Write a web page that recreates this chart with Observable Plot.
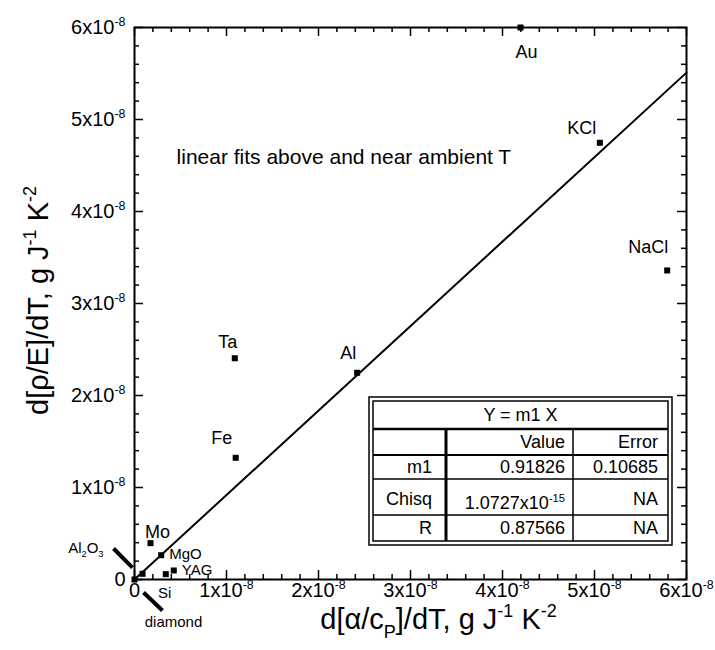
<!DOCTYPE html>
<html>
<head>
<meta charset="utf-8">
<script src="https://cdn.jsdelivr.net/npm/d3@7"></script>
<script src="https://cdn.jsdelivr.net/npm/@observablehq/plot@0.6"></script>
<style>
  body { margin: 0; background: #fff; }
  svg { display: block; }
</style>
</head>
<body>
<div id="chart"></div>
<script>
// ---------------- data ----------------
const materials     = ["diamond", "Al2O3", "Mo", "MgO", "Si", "YAG", "Fe", "Ta", "Al", "Au", "KCl", "NaCl"];
const materialLabel = ["diamond", "Al_{2}O_{3}", "Mo", "MgO", "Si", "YAG", "Fe", "Ta", "Al", "Au", "KCl", "NaCl"];
const alphaOverCp   = [0, 0.087e-8, 0.174e-8, 0.29e-8, 0.34e-8, 0.427e-8, 1.10e-8, 1.09e-8, 2.42e-8, 4.196e-8, 5.058e-8, 5.79e-8];
const rhoOverE      = [0, 0.062e-8, 0.395e-8, 0.264e-8, 0.058e-8, 0.098e-8, 1.323e-8, 2.405e-8, 2.247e-8, 6.0e-8, 4.747e-8, 3.359e-8];

const fitSlope = 0.91826;
const fitX = [0, 6e-8];

const majorTicks = [0, 1e-8, 2e-8, 3e-8, 4e-8, 5e-8, 6e-8];
const xTickLabels = ["0", "1x10^{-8}", "2x10^{-8}", "3x10^{-8}", "4x10^{-8}", "5x10^{-8}", "6x10^{-8}"];
const yTickLabels = ["0", "1x10^{-8}", "2x10^{-8}", "3x10^{-8}", "4x10^{-8}", "5x10^{-8}", "6x10^{-8}"];
const minorTicks = d3.range(0, 31).filter(i => i % 5 !== 0).map(i => i * 0.2e-8);

const xTitle = "d[α/c_{P}]/dT, g J^{-1} K^{-2}";
const yTitle = "d[ρ/E]/dT, g J^{-1} K^{-2}";
const noteText = ["linear fits above and near ambient T"];
const noteX = [0.457e-8];
const noteY = [4.587e-8];

// pointer strokes (data units)
const pointerX1 = [-0.228e-8, 0.098e-8];
const pointerY1 = [0.337e-8, -0.141e-8];
const pointerX2 = [-0.022e-8, 0.304e-8];
const pointerY2 = [0.130e-8, -0.337e-8];

// fit table
const tableTitle = "Y = m1 X";
const tableColumns = ["", "Value", "Error"];
const tableRows = [
  ["m1", "0.91826", "0.10685"],
  ["Chisq", "1.0727x10^{-15}", "NA"],
  ["R", "0.87566", "NA"]
];

// ---------------- layout / style ----------------
const FONT = "'Liberation Sans', Arial, Helvetica, sans-serif";
const W = 715, H = 650, ML = 134, MR = 29, MT = 27, MB = 71;
const PW = W - ML - MR, PH = H - MT - MB;
const MAJ = 9, MIN = 5;

// label offsets [dx, dy, anchor, size]
const labelStyle = {
  diamond: [39, 43, "middle", 15],
  Al2O3: [-39, -26, "end", 15],
  Mo: [7, -11, "middle", 18],
  MgO: [8, -1, "start", 15],
  Si: [-1, 19, "middle", 15],
  YAG: [8, 0, "start", 15],
  Fe: [-14, -20, "middle", 18],
  Ta: [-7, -16, "middle", 18],
  Al: [-9, -20, "middle", 18],
  Au: [6, 25, "middle", 18],
  KCl: [-18, -15, "middle", 18],
  NaCl: [-19, -23, "middle", 18]
};

const idx = d3.range(materials.length);

const labelMarks = idx.map(i => {
  const [dx, dy, anchor, size] = labelStyle[materials[i]];
  return Plot.text([i], {
    x: j => alphaOverCp[j], y: j => rhoOverE[j], text: j => materialLabel[j],
    dx, dy, textAnchor: anchor, lineAnchor: "middle", fontSize: size, fill: "#000"
  });
});

const plot = Plot.plot({
  width: W, height: H,
  marginLeft: ML, marginRight: MR, marginTop: MT, marginBottom: MB,
  x: { domain: [0, 6e-8], axis: null },
  y: { domain: [0, 6e-8], axis: null },
  style: { fontFamily: FONT, fontSize: "18px", color: "#000", background: "#fff", overflow: "visible" },
  marks: [
    // ticks, inward on all four sides
    Plot.tickX(majorTicks, { x: d => d, insetTop: PH - MAJ, stroke: "#000", strokeWidth: 1.5 }),
    Plot.tickX(minorTicks, { x: d => d, insetTop: PH - MIN, stroke: "#000", strokeWidth: 1.5 }),
    Plot.tickX(majorTicks, { x: d => d, insetBottom: PH - MAJ, stroke: "#000", strokeWidth: 1.5 }),
    Plot.tickX(minorTicks, { x: d => d, insetBottom: PH - MIN, stroke: "#000", strokeWidth: 1.5 }),
    Plot.tickY(majorTicks, { y: d => d, insetRight: PW - MAJ, stroke: "#000", strokeWidth: 1.5 }),
    Plot.tickY(minorTicks, { y: d => d, insetRight: PW - MIN, stroke: "#000", strokeWidth: 1.5 }),
    Plot.tickY(majorTicks, { y: d => d, insetLeft: PW - MAJ, stroke: "#000", strokeWidth: 1.5 }),
    Plot.tickY(minorTicks, { y: d => d, insetLeft: PW - MIN, stroke: "#000", strokeWidth: 1.5 }),
    Plot.frame({ stroke: "#000", strokeWidth: 2 }),
    // tick labels
    Plot.text(majorTicks, { x: d => d, frameAnchor: "bottom", lineAnchor: "middle", textAnchor: "middle", text: (d, i) => xTickLabels[i], dy: 11, fontSize: 20, fill: "#000" }),
    Plot.text(majorTicks, { y: d => d, frameAnchor: "left", lineAnchor: "middle", textAnchor: "end", text: (d, i) => yTickLabels[i], dx: -9, fontSize: 20, fill: "#000" }),
    // axis titles
    Plot.text([xTitle], { frameAnchor: "bottom", lineAnchor: "middle", textAnchor: "middle", text: d => d, dx: 28, dy: 40, fontSize: 29, fill: "#000" }),
    Plot.text([yTitle], { frameAnchor: "left", lineAnchor: "middle", textAnchor: "middle", text: d => d, rotate: -90, dx: -96, dy: -3, fontSize: 29, fill: "#000" }),
    // fit line
    Plot.line(fitX, { x: d => d, y: d => fitSlope * d, stroke: "#000", strokeWidth: 2 }),
    // pointer strokes
    Plot.link(d3.range(pointerX1.length), {
      x1: i => pointerX1[i], y1: i => pointerY1[i], x2: i => pointerX2[i], y2: i => pointerY2[i],
      stroke: "#000", strokeWidth: 4
    }),
    // points
    Plot.dot(idx, { x: i => alphaOverCp[i], y: i => rhoOverE[i], symbol: "square", r: 3.4, fill: "#000", stroke: "none" }),
    // labels
    ...labelMarks,
    // note
    Plot.text(d3.range(noteText.length), { x: i => noteX[i], y: i => noteY[i], text: i => noteText[i], textAnchor: "start", lineAnchor: "middle", fontSize: 21, fill: "#000" })
  ]
});

document.getElementById("chart").appendChild(plot);

// ---------------- rich text (superscripts / subscripts) ----------------
const SVGNS = "http://www.w3.org/2000/svg";
function richify(el) {
  const s = el.textContent;
  if (!/[\^_]\{/.test(s)) return;
  const size = parseFloat(getComputedStyle(el).fontSize) || 18;
  // carry over the element's own dy (it would be overridden by the tspans)
  let base = 0;
  const dyAttr = el.getAttribute("dy");
  if (dyAttr) {
    base = /em$/.test(dyAttr) ? parseFloat(dyAttr) * size : parseFloat(dyAttr) || 0;
    el.removeAttribute("dy");
  }
  el.textContent = "";
  const re = /([\^_])\{([^}]*)\}|([^\^_]+)/g;
  let shift = -base, m;
  while ((m = re.exec(s))) {
    const t = document.createElementNS(SVGNS, "tspan");
    let target = 0;
    if (m[1]) {
      target = m[1] === "^" ? -0.4 * size : 0.32 * size;
      t.setAttribute("font-size", (0.62 * size).toFixed(2));
      t.textContent = m[2];
    } else {
      t.textContent = m[3];
    }
    t.setAttribute("dy", (target - shift).toFixed(2));
    shift = target;
    el.appendChild(t);
  }
}
plot.querySelectorAll("text").forEach(richify);

// ---------------- fit results table ----------------
const svg = d3.select(plot);
const tb = { x0: 369, y0: 397, x1: 672, y1: 545, gap: 4 };
const inner = { x0: tb.x0 + tb.gap, y0: tb.y0 + tb.gap, x1: tb.x1 - tb.gap, y1: tb.y1 - tb.gap };
const rowLines = [429, 455, 479, 515];
const rowWidths = [2.5, 1.8, 1.5, 1.5];
const colLines = [446, 573];
const colWidths = [3, 1.5];
const rowCenters = [442, 467, 499, 528];
const colRight = [432, 565, 658];

const g = svg.append("g").attr("font-family", FONT).attr("font-size", 18).attr("fill", "#000");
g.append("rect").attr("x", tb.x0).attr("y", tb.y0).attr("width", tb.x1 - tb.x0).attr("height", tb.y1 - tb.y0)
  .attr("fill", "#fff").attr("stroke", "#000").attr("stroke-width", 1.5);
g.append("rect").attr("x", inner.x0).attr("y", inner.y0).attr("width", inner.x1 - inner.x0).attr("height", inner.y1 - inner.y0)
  .attr("fill", "none").attr("stroke", "#000").attr("stroke-width", 1.5);
rowLines.forEach((y, i) => g.append("line").attr("x1", inner.x0).attr("x2", inner.x1).attr("y1", y).attr("y2", y)
  .attr("stroke", "#000").attr("stroke-width", rowWidths[i]));
colLines.forEach((x, i) => g.append("line").attr("x1", x).attr("x2", x).attr("y1", rowLines[0]).attr("y2", inner.y1)
  .attr("stroke", "#000").attr("stroke-width", colWidths[i]));
g.append("text").attr("x", (inner.x0 + inner.x1) / 2).attr("y", 415).attr("dy", "0.35em")
  .attr("text-anchor", "middle").text(tableTitle);
tableColumns.forEach((c, j) => {
  if (!c) return;
  g.append("text").attr("x", colRight[j]).attr("y", rowCenters[0]).attr("dy", "0.35em").attr("text-anchor", "end").text(c);
});
tableRows.forEach((row, r) => {
  row.forEach((c, j) => {
    const isSci = /\^\{/.test(c);
    const t = g.append("text").attr("x", colRight[j]).attr("y", rowCenters[r + 1] + (isSci ? 4 : 0))
      .attr("dy", "0.35em").attr("text-anchor", "end").text(c);
    richify(t.node());
  });
});
</script>
</body>
</html>
